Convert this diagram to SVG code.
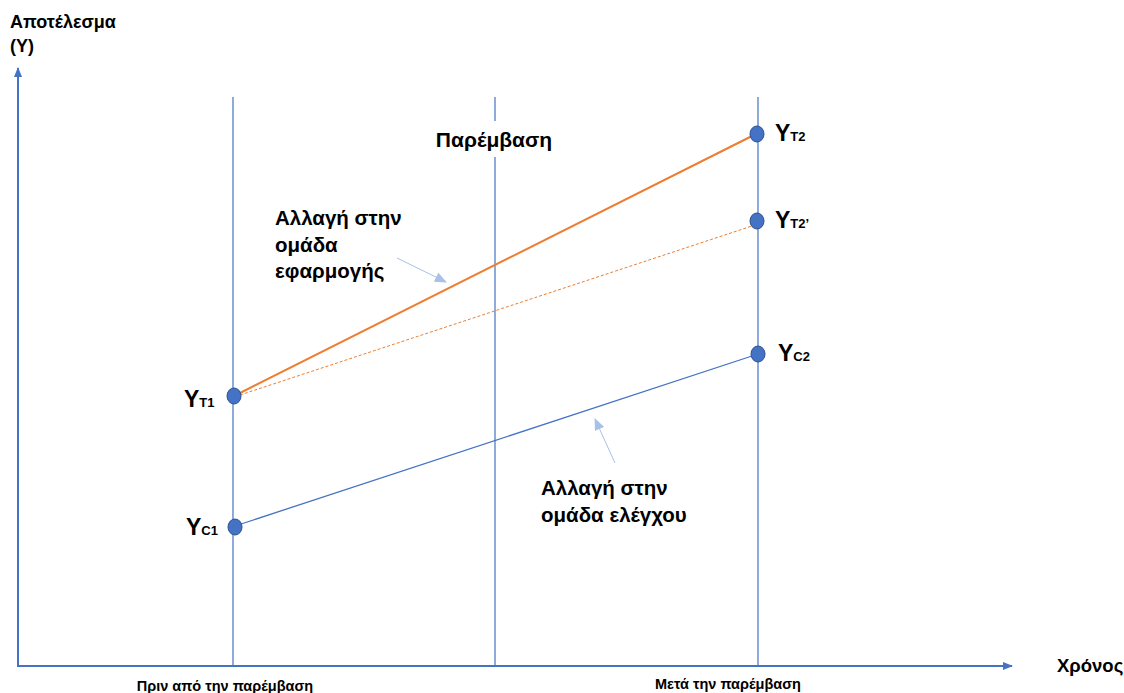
<svg xmlns="http://www.w3.org/2000/svg" width="1124" height="693" viewBox="0 0 1124 693">
<style>
text{font-family:"Liberation Sans",Arial,sans-serif;font-weight:bold;fill:#000}
.ax{stroke:#4472C4;stroke-width:2;fill:none}
.vl{stroke:#4472C4;stroke-width:1.2;fill:none}
.dot{fill:#4472C4;stroke:#2F528F;stroke-width:1}
.ann{stroke:#A9C1E8;stroke-width:1;fill:none}
.lbl{font-size:20.5px}
.big{font-size:23px}
.sub{font-size:13px}
</style>
<defs>
<marker id="ah" markerWidth="10" markerHeight="8" refX="9" refY="4" orient="auto" markerUnits="userSpaceOnUse"><path d="M0,0 L10,4 L0,8 Z" fill="#4472C4"/></marker>
<marker id="ah2" markerWidth="12" markerHeight="10" refX="11" refY="5" orient="auto" markerUnits="userSpaceOnUse"><path d="M0,0 L12,5 L0,10 Z" fill="#A9C1E8"/></marker>
</defs>
<g id="axes">
<line class="ax" x1="18" y1="666" x2="18" y2="68" marker-end="url(#ah)"/>
<line class="ax" x1="17" y1="666" x2="1012" y2="666" marker-end="url(#ah)"/>
<text x="10" y="28" font-size="18">Αποτέλεσμα</text>
<text x="10" y="52" font-size="18">(Y)</text>
<text x="1057" y="672" font-size="18.5">Χρόνος</text>
</g>
<g id="verticals">
<line class="vl" x1="233" y1="97" x2="233" y2="666"/>
<line class="vl" x1="495" y1="97" x2="495" y2="121"/>
<line class="vl" x1="495" y1="157" x2="495" y2="666"/>
<line class="vl" x1="758" y1="97" x2="758" y2="666"/>
<text x="494" y="147" font-size="21" text-anchor="middle">Παρέμβαση</text>
<text x="225" y="691" font-size="14.5" text-anchor="middle">Πριν από την παρέμβαση</text>
<text x="728" y="689" font-size="14.5" text-anchor="middle">Μετά την παρέμβαση</text>
</g>
<g id="connectors">
<line x1="240" y1="393" x2="752" y2="136" stroke="#ED7D31" stroke-width="2"/>
<line x1="240" y1="395" x2="752" y2="226" stroke="#ED7D31" stroke-width="1" stroke-dasharray="3,2"/>
<line x1="241" y1="524" x2="752" y2="356" stroke="#4472C4" stroke-width="1.3"/>
<line class="ann" x1="397" y1="258" x2="446" y2="282" marker-end="url(#ah2)"/>
<line class="ann" x1="615" y1="463" x2="595" y2="419" marker-end="url(#ah2)"/>
</g>
<g id="node-yt1">
<ellipse class="dot" cx="234" cy="396" rx="7" ry="8"/>
<text x="184" y="407"><tspan class="big">Y</tspan><tspan class="sub">T1</tspan></text>
</g>
<g id="node-yc1">
<ellipse class="dot" cx="235" cy="527" rx="7" ry="8"/>
<text x="186" y="535"><tspan class="big">Y</tspan><tspan class="sub">C1</tspan></text>
</g>
<g id="node-yt2">
<ellipse class="dot" cx="757" cy="134" rx="7" ry="8"/>
<text x="775" y="141"><tspan class="big">Y</tspan><tspan class="sub">T2</tspan></text>
</g>
<g id="node-yt2p">
<ellipse class="dot" cx="757" cy="221" rx="7" ry="8"/>
<text x="775" y="228"><tspan class="big">Y</tspan><tspan class="sub">T2’</tspan></text>
</g>
<g id="node-yc2">
<ellipse class="dot" cx="758" cy="354" rx="7" ry="8"/>
<text x="778" y="361"><tspan class="big">Y</tspan><tspan class="sub">C2</tspan></text>
</g>
<g id="label-treat">
<text x="275" y="225" class="lbl">Αλλαγή στην</text>
<text x="275" y="252" class="lbl">ομάδα</text>
<text x="275" y="278" class="lbl">εφαρμογής</text>
</g>
<g id="label-control">
<text x="541" y="495" class="lbl">Αλλαγή στην</text>
<text x="541" y="522" class="lbl">ομάδα ελέγχου</text>
</g>
</svg>
